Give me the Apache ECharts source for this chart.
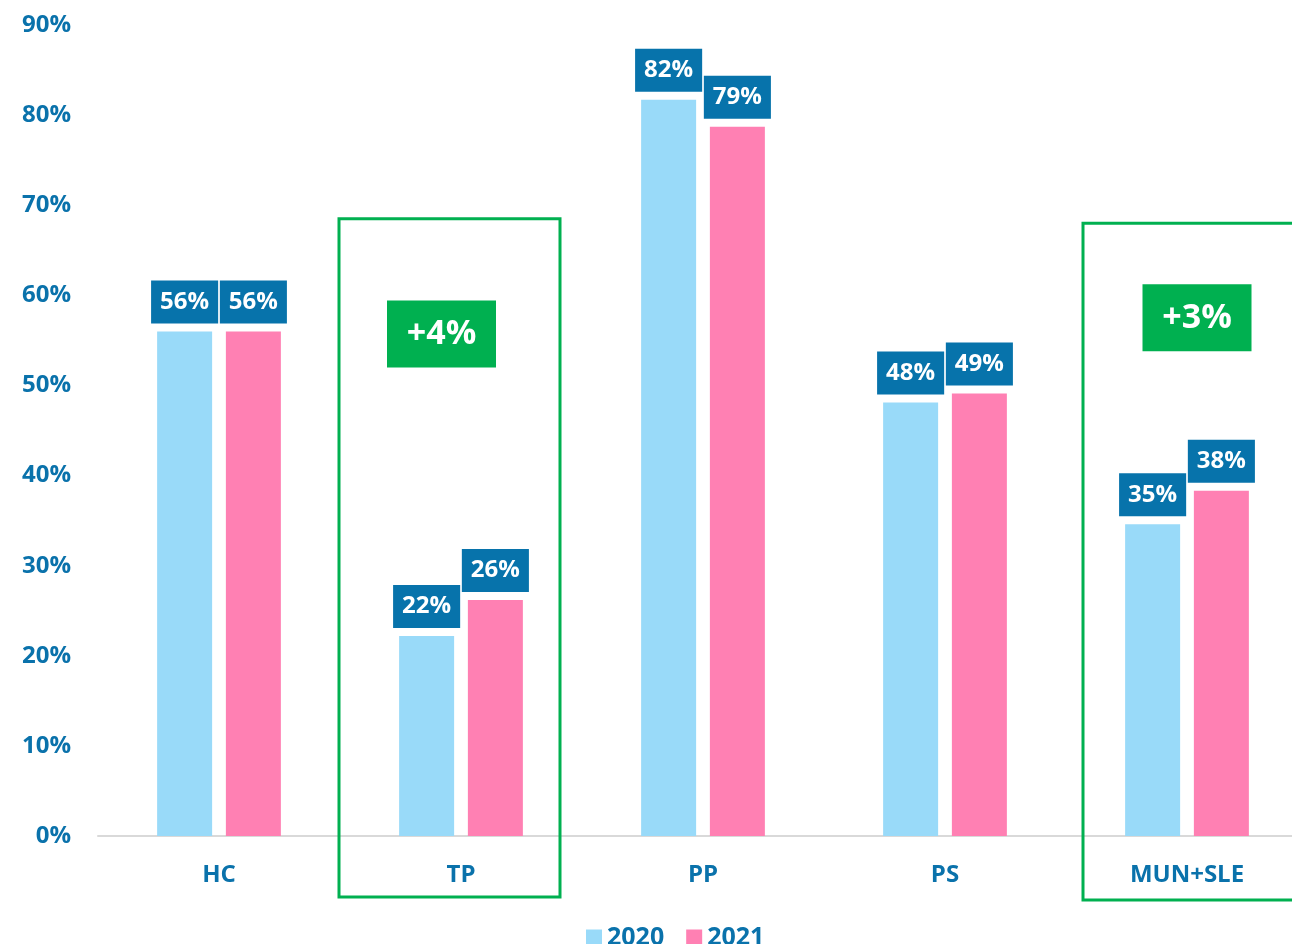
<!DOCTYPE html>
<html><head><meta charset="utf-8">
<script src="https://cdn.jsdelivr.net/npm/echarts@6/dist/echarts.min.js"></script>
<style>html,body{margin:0;padding:0;background:#fff;overflow:hidden;width:1292px;height:944px}#c{width:1308px;height:944px}</style>
</head><body><div id="c"></div>
<script>
const categories = ['HC', 'TP', 'PP', 'PS', 'MUN+SLE'];
const values2020 = [56, 22.2, 81.7, 48.1, 34.6];
const values2021 = [56, 26.2, 78.7, 49.1, 38.3];
const seriesNames = ['2020', '2021'];
const yTicks = [0, 10, 20, 30, 40, 50, 60, 70, 80, 90];
const highlights = [
  { category: 'TP', text: '+4%', top: 68.5, boxCenterValue: 55.7 },
  { category: 'MUN+SLE', text: '+3%', top: 68.0, boxCenterValue: 57.5 }
];

const FONT = '"Open Sans", sans-serif';
const BLUE = '#0A72AB';
const LBL_BG = '#0773AB';
const GREEN = '#00B050';

const chart = echarts.init(document.getElementById('c'));
const labelCfg = {
  show: true, position: 'top', distance: 8,
  formatter: p => Math.round(p.value) + '%',
  color: '#fff', fontFamily: FONT, fontWeight: 'bold', fontSize: 24,
  lineHeight: 25, backgroundColor: LBL_BG, padding: [9, 9, 9, 9]
};
chart.setOption({
  animation: false,
  backgroundColor: '#fff',
  grid: { left: 98, right: 0, top: 25, bottom: 108 },
  legend: {
    data: seriesNames, top: 920, left: 581, itemWidth: 16, itemHeight: 16, itemGap: 22,
    icon: 'rect',
    textStyle: { color: BLUE, fontFamily: FONT, fontWeight: 'bold', fontSize: 25 }
  },
  xAxis: {
    type: 'category', data: categories,
    axisLine: { lineStyle: { color: '#D9D9D9', width: 2 } },
    axisTick: { show: false },
    axisLabel: { color: BLUE, fontFamily: FONT, fontWeight: 'bold', fontSize: 24, margin: 27 }
  },
  yAxis: {
    type: 'value', min: 0, max: 90, interval: 10,
    splitLine: { show: false },
    axisLine: { show: false }, axisTick: { show: false },
    axisLabel: {
      color: BLUE, fontFamily: FONT, fontWeight: 'bold', fontSize: 24, margin: 27,
      formatter: v => (yTicks.includes(v) ? v + '%' : '')
    }
  },
  series: [
    { name: seriesNames[0], type: 'bar', data: values2020, barWidth: 55, barGap: '25%',
      itemStyle: { color: '#99DAF9' }, label: labelCfg },
    { name: seriesNames[1], type: 'bar', data: values2021, barWidth: 55,
      itemStyle: { color: '#FF80B3' }, label: labelCfg }
  ]
});

const graphics = [];
const axisY = chart.convertToPixel({ yAxisIndex: 0 }, 0);
highlights.forEach((h, i) => {
  const cx = chart.convertToPixel({ xAxisIndex: 0 }, h.category);
  const topY = chart.convertToPixel({ yAxisIndex: 0 }, h.top);
  const leftOff = i === 0 ? -122 : -104;
  const rightOff = i === 0 ? 99 : 130;
  const bottomY = axisY + (i === 0 ? 61 : 64);
  graphics.push({
    type: 'rect', z: 10,
    shape: { x: cx + leftOff, y: topY, width: rightOff - leftOff, height: bottomY - topY },
    style: { fill: 'none', stroke: GREEN, lineWidth: 3 }
  });
  const by = chart.convertToPixel({ yAxisIndex: 0 }, h.boxCenterValue);
  const bcx = cx + (i === 0 ? -19.5 : 10);
  graphics.push({
    type: 'rect', z: 11,
    shape: { x: bcx - 54.5, y: by - 33.5, width: 109, height: 67 },
    style: { fill: GREEN }
  });
  graphics.push({
    type: 'text', z: 12, x: bcx, y: by,
    style: { text: h.text, fill: '#fff', font: 'bold 34px ' + FONT, align: 'center', verticalAlign: 'middle' }
  });
});
chart.setOption({ graphic: graphics });
</script></body></html>
